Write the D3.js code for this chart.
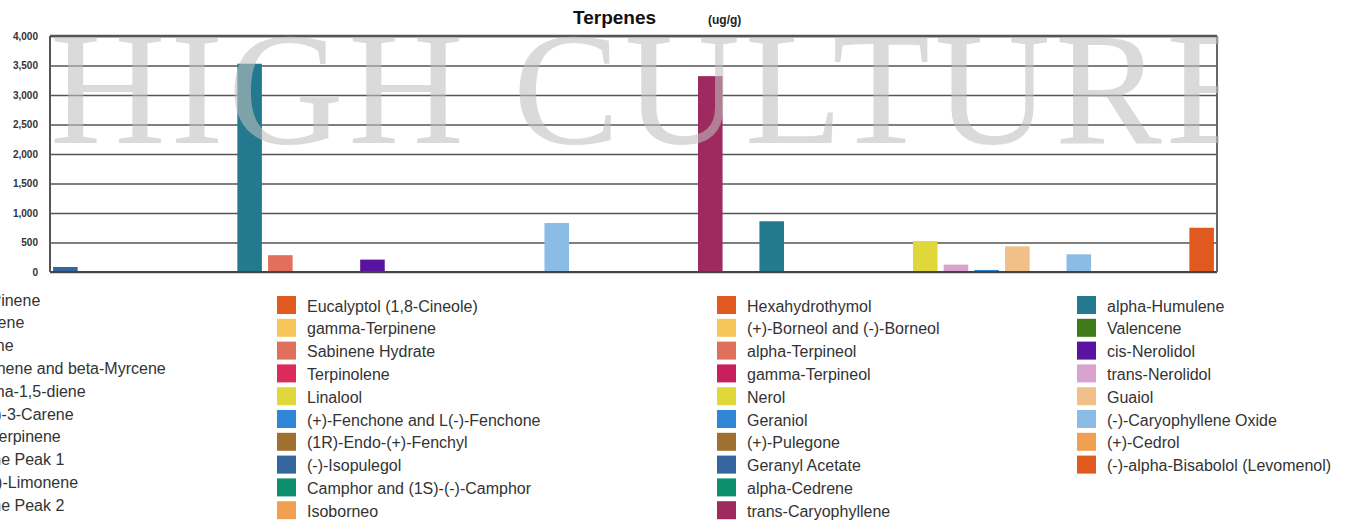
<!DOCTYPE html>
<html>
<head>
<meta charset="utf-8">
<script src="https://cdn.jsdelivr.net/npm/d3@7"></script>
<style>
  html, body { margin: 0; padding: 0; background: #fff; overflow: hidden; }
  .terp text { font-family: "Liberation Sans", Arial, sans-serif; }
  .terp .yaxis text { font-size: 10px; font-weight: bold; fill: #333; }
  .terp .yaxis line { stroke: #555; stroke-width: 1.5; }
  .terp .yaxis path { display: none; }
  .terp .legend text { font-size: 16px; fill: #333; }
</style>
</head>
<body>
<div id="terpenes"></div>
<script>
var totWidth = 1351;
var totHeight = 523;

//-- Data (legend order, column by column)
var terpeneNames = [
  "alpha-Pinene", "Camphene", "Sabinene", "beta-Pinene and beta-Myrcene", "p-Mentha-1,5-diene",
  "(1S)-(+)-3-Carene", "alpha-Terpinene", "Ocimene Peak 1", "(4R)-(+)-Limonene", "Ocimene Peak 2",
  "Eucalyptol (1,8-Cineole)", "gamma-Terpinene", "Sabinene Hydrate", "Terpinolene", "Linalool",
  "(+)-Fenchone and L(-)-Fenchone", "(1R)-Endo-(+)-Fenchyl", "(-)-Isopulegol", "Camphor and (1S)-(-)-Camphor", "Isoborneo",
  "Hexahydrothymol", "(+)-Borneol and (-)-Borneol", "alpha-Terpineol", "gamma-Terpineol", "Nerol",
  "Geraniol", "(+)-Pulegone", "Geranyl Acetate", "alpha-Cedrene", "trans-Caryophyllene",
  "alpha-Humulene", "Valencene", "cis-Nerolidol", "trans-Nerolidol", "Guaiol",
  "(-)-Caryophyllene Oxide", "(+)-Cedrol", "(-)-alpha-Bisabolol (Levomenol)"
];

var terpeneValues = [
  85, 0, 0, 3530, 0,
  210, 0, 0, 830, 0,
  0, 0, 0, 0, 525,
  35, 0, 0, 0, 0,
  0, 0, 285, 0, 0,
  0, 0, 0, 0, 3320,
  860, 0, 0, 125, 435,
  300, 0, 750
];

var terpeneColors = [
  "#34659e", "#0b8f6d", "#9e2a60", "#237a8e", "#3f7a18",
  "#5a12a0", "#d9a3cf", "#f0c088", "#8bbce6", "#f0a050",
  "#e05a20", "#f7c65a", "#e06f5c", "#dc2a5a", "#e0d83a",
  "#2f86d6", "#a07030", "#34659e", "#0b8f6d", "#f0a050",
  "#e05a20", "#f7c65a", "#e06f5c", "#c8205a", "#e0d83a",
  "#2f86d6", "#a07030", "#34659e", "#0b8f6d", "#9e2a60",
  "#237a8e", "#3f7a18", "#5a12a0", "#d9a3cf", "#f0c088",
  "#8bbce6", "#f0a050", "#e05a20"
];

var yTicks = [0, 500, 1000, 1500, 2000, 2500, 3000, 3500, 4000];

//-- Plot order: first half and second half of the legend interleave
var plotOrder = d3.range(19).flatMap(function(i){ return [i, i + 19]; });

//-- Dimension & margin
var margin = {top: 36, right: 134, bottom: 251, left: 50},
    width = totWidth - margin.left - margin.right,
    height = totHeight - margin.top - margin.bottom;

var svg = d3.select("#terpenes")
  .append("svg")
    .attr("class", "terp")
    .attr("width", totWidth)
    .attr("height", totHeight);

var g = svg.append("g")
    .attr("transform", "translate(" + margin.left + "," + margin.top + ")");

//-- Scales
var x = d3.scaleBand()
  .domain(plotOrder)
  .range([0, width])
  .paddingInner(0.2)
  .paddingOuter(0.1);

var y = d3.scaleLinear()
  .domain([0, 4000])
  .range([height, 0]);

//-- Grid + y labels
g.append("g")
  .attr("class", "yaxis")
  .call(d3.axisLeft(y)
    .tickValues(yTicks)
    .tickSize(-width)
    .tickPadding(12)
    .tickFormat(d3.format(",")));

//-- Bars
g.append("g")
  .selectAll("rect")
  .data(plotOrder.filter(function(i){ return terpeneValues[i] > 0; }))
  .enter().append("rect")
    .attr("x", function(i){ return x(i); })
    .attr("y", function(i){ return y(terpeneValues[i]); })
    .attr("width", x.bandwidth())
    .attr("height", function(i){ return height - y(terpeneValues[i]); })
    .attr("fill", function(i){ return terpeneColors[i]; });

//-- Watermark (clipped at the right frame)
svg.append("clipPath").attr("id", "wmclip")
  .append("rect")
    .attr("x", 0).attr("y", margin.top)
    .attr("width", margin.left + width + 2)
    .attr("height", height);

svg.append("text")
  .attr("clip-path", "url(#wmclip)")
  .attr("x", 50)
  .attr("y", 143)
  .attr("textLength", 1214)
  .attr("lengthAdjust", "spacing")
  .style("font-family", "'Liberation Serif', 'Times New Roman', serif")
  .style("font-size", "160px")
  .style("fill", "#c0c0c0")
  .style("fill-opacity", 0.58)
  .text("HIGH CULTURE");

//-- Frame
g.append("line")
  .attr("x1", 0).attr("x2", width)
  .attr("y1", 0).attr("y2", 0)
  .attr("stroke", "#555").attr("stroke-width", 2.5);
g.append("line")
  .attr("x1", 0).attr("x2", width)
  .attr("y1", height).attr("y2", height)
  .attr("stroke", "#444").attr("stroke-width", 2);
g.append("line")
  .attr("x1", 0).attr("x2", 0)
  .attr("y1", 0).attr("y2", height)
  .attr("stroke", "#555").attr("stroke-width", 2);
g.append("line")
  .attr("x1", width).attr("x2", width)
  .attr("y1", 0).attr("y2", height)
  .attr("stroke", "#666").attr("stroke-width", 2);

//-- Title
svg.append("text")
  .attr("x", 573)
  .attr("y", 24)
  .style("font-size", "19px")
  .style("font-weight", "bold")
  .style("fill", "#111")
  .text("Terpenes");

svg.append("text")
  .attr("x", 708)
  .attr("y", 24)
  .style("font-size", "12px")
  .style("font-weight", "bold")
  .style("fill", "#222")
  .text("(ug/g)");

//-- Legend (column by column, 10 per column)
var colX = [-84, 277, 717, 1077];
var colY = [300, 306, 306, 306];
var rowStep = 22.8;

var legend = svg.append("g").attr("class", "legend");

var item = legend.selectAll("g")
  .data(d3.range(terpeneNames.length))
  .enter().append("g")
    .attr("transform", function(i){
      var c = Math.floor(i / 10), r = i % 10;
      return "translate(" + colX[c] + "," + (colY[c] + r * rowStep) + ")";
    });

item.append("rect")
  .attr("x", 0)
  .attr("y", -10)
  .attr("width", 19)
  .attr("height", 18)
  .attr("fill", function(i){ return terpeneColors[i]; });

item.append("text")
  .attr("x", 30)
  .attr("dy", "0.35em")
  .text(function(i){ return terpeneNames[i]; });
</script>
</body>
</html>
